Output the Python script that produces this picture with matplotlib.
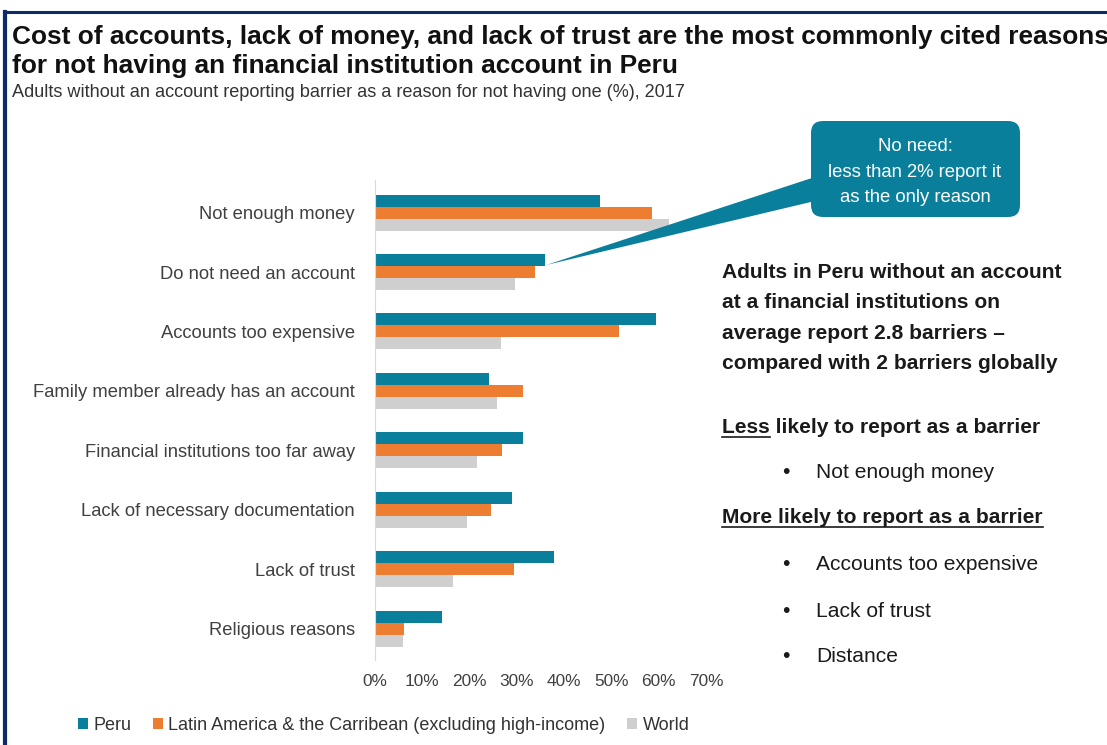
import matplotlib.pyplot as plt
import numpy as np
from matplotlib import font_manager
from matplotlib.lines import Line2D
from matplotlib.patches import FancyBboxPatch, Polygon

categories = [
    "Not enough money",
    "Do not need an account",
    "Accounts too expensive",
    "Family member already has an account",
    "Financial institutions too far away",
    "Lack of necessary documentation",
    "Lack of trust",
    "Religious reasons",
]
peru = [47.6, 36.0, 59.5, 24.2, 31.3, 28.9, 37.8, 14.2]
lac = [58.5, 33.9, 51.7, 31.2, 26.8, 24.6, 29.4, 6.1]
world = [62.2, 29.6, 26.7, 25.8, 21.6, 19.5, 16.4, 5.9]
series_names = ["Peru", "Latin America & the Carribean (excluding high-income)", "World"]
x_ticks = [0, 10, 20, 30, 40, 50, 60, 70]

TEAL = "#0A7F9C"
ORANGE = "#ED7D31"
GREY = "#D0CFCF"
NAVY = "#0D2B6B"

# the reference uses a narrow Arial-like face; use the narrow one if it is there
names = {f.name for f in font_manager.fontManager.ttflist}
if "Liberation Sans Narrow" in names:
    FONT, RATIO = "Liberation Sans Narrow", 0.82
else:
    FONT, RATIO = "Liberation Sans", 1.0
plt.rcParams["font.family"] = [FONT, "DejaVu Sans"]


def fs(pt):
    return pt / RATIO


W, H = 1107, 745


def fx(px):
    return px / W


def fy(py):
    return 1 - py / H


def main() -> None:
    fig = plt.figure(figsize=(W / 100, H / 100), dpi=100)
    ax = fig.add_axes([fx(375), fy(660), 331 / W, 480 / H])

    # Bars
    y = np.arange(len(categories))
    h = 0.202
    ax.barh(y - h, peru, height=h, color=TEAL, label=series_names[0])
    ax.barh(y, lac, height=h, color=ORANGE, label=series_names[1])
    ax.barh(y + h, world, height=h, color=GREY, label=series_names[2])

    ax.set_xlim(0, 70)
    ax.set_ylim(7.53, -0.55)
    ax.set_yticks(y)
    ax.set_yticklabels(categories, fontsize=fs(13.2), color="#404040")
    ax.set_xticks(x_ticks)
    ax.set_xticklabels([f"{t}%" for t in x_ticks], fontsize=fs(12.4), color="#404040")
    ax.tick_params(axis="y", length=0, pad=14.4)
    ax.tick_params(axis="x", length=0, pad=10)
    for side in ["top", "right", "bottom"]:
        ax.spines[side].set_visible(False)
    ax.spines["left"].set_color("#D9D9D9")

    # Titles
    fig.text(fx(12), fy(44), "Cost of accounts, lack of money, and lack of trust are the most commonly cited reasons",
             fontsize=fs(18.9), fontweight="bold", color="#111111", va="baseline")
    fig.text(fx(12), fy(73), "for not having an financial institution account in Peru",
             fontsize=fs(18.9), fontweight="bold", color="#111111", va="baseline")
    fig.text(fx(12), fy(97), "Adults without an account reporting barrier as a reason for not having one (%), 2017",
             fontsize=fs(13.1), color="#333333", va="baseline")

    # Legend
    fig.legend(loc="center left", bbox_to_anchor=(fx(78), fy(725)), ncol=3, frameon=False,
               fontsize=fs(13.0), handlelength=0.55, handleheight=0.55, handletextpad=0.3,
               columnspacing=1.2, borderaxespad=0, borderpad=0, labelcolor="#333333")

    # Callout box with pointer to the "Do not need" bar
    box = FancyBboxPatch((8.11, (H - 217) / 100), 2.09, 0.96, boxstyle="round,pad=0,rounding_size=0.12",
                         transform=fig.dpi_scale_trans, facecolor=TEAL, edgecolor="none", zorder=3)
    fig.patches.append(box)
    tip = ax.transData.transform((peru[1] + 0.3, 1 - h * 0.6))
    tip = fig.dpi_scale_trans.inverted().transform(tip)
    wedge = Polygon([tip, (8.15, (H - 177) / 100), (8.15, (H - 201) / 100)], closed=True,
                    transform=fig.dpi_scale_trans, facecolor=TEAL, edgecolor="none", zorder=3)
    fig.patches.append(wedge)
    for text, py in [("No need:", 151), ("less than 2% report it", 177), ("as the only reason", 202)]:
        fig.text(fx(915), fy(py), text, fontsize=fs(13.3), color="white", ha="center", va="baseline", zorder=4)

    # Right-hand notes
    notes = ["Adults in Peru without an account", "at a financial institutions on",
             "average report 2.8 barriers \u2013", "compared with 2 barriers globally"]
    for i, line in enumerate(notes):
        fig.text(fx(722), fy(278 + 30.3 * i), line, fontsize=fs(15.1), fontweight="bold",
                 color="#1A1A1A", va="baseline")

    fig.text(fx(722), fy(433), "Less likely to report as a barrier", fontsize=fs(15.1),
             fontweight="bold", color="#1A1A1A", va="baseline")
    more = fig.text(fx(722), fy(523), "More likely to report as a barrier", fontsize=fs(15.1),
                    fontweight="bold", color="#1A1A1A", va="baseline")
    for item, py in [("Not enough money", 478), ("Accounts too expensive", 570),
                     ("Lack of trust", 617), ("Distance", 662)]:
        fig.text(fx(782), fy(py), "\u2022", fontsize=fs(15.1), color="#1A1A1A", va="baseline")
        fig.text(fx(816), fy(py), item, fontsize=fs(15.1), color="#1A1A1A", va="baseline")

    # Underlines
    fig.canvas.draw()
    renderer = fig.canvas.get_renderer()
    tmp = fig.text(fx(722), fy(433), "Less", fontsize=fs(15.1), fontweight="bold", va="baseline")
    less_w = tmp.get_window_extent(renderer).width
    tmp.remove()
    more_w = more.get_window_extent(renderer).width
    for x0, width, py in [(722, less_w, 437), (722, more_w, 527)]:
        fig.add_artist(Line2D([fx(x0), fx(x0 + width)], [fy(py), fy(py)], color="#1A1A1A", lw=1.2))

    # Frame
    fig.add_artist(Line2D([fx(5), fx(5)], [fy(12), 0], color=NAVY, lw=3))
    fig.add_artist(Line2D([fx(3.5), 1], [fy(12), fy(12)], color=NAVY, lw=2.2))

    fig.savefig("out.png", dpi=100)


if __name__ == "__main__":
    main()
